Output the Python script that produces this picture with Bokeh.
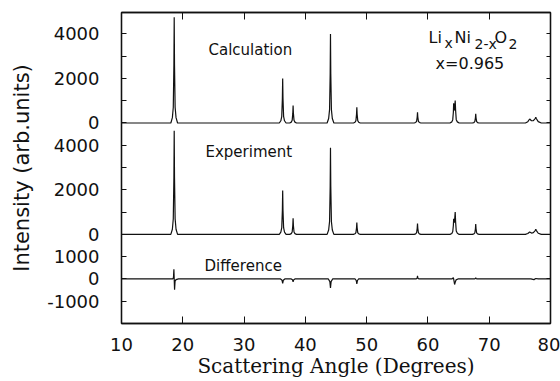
from bokeh.plotting import figure
from bokeh.models import Range1d, FixedTicker, LinearAxis, Label
from bokeh.embed import file_html
from bokeh.resources import INLINE

# ---------------- data ----------------
calc_x = [10.0,
          18.05, 18.3, 18.45, 18.55, 18.6, 18.65, 18.75, 18.9, 19.15,
          35.75, 36.0, 36.15, 36.25, 36.3, 36.35, 36.45, 36.6, 36.85,
          37.45, 37.7, 37.85, 37.95, 38.0, 38.05, 38.15, 38.3, 38.55,
          43.55, 43.8, 43.95, 44.05, 44.1, 44.15, 44.25, 44.4, 44.65,
          47.85, 48.1, 48.25, 48.35, 48.4, 48.45, 48.55, 48.7, 48.95,
          57.75, 58.0, 58.15, 58.25, 58.3, 58.35, 58.45, 58.6, 58.85,
          63.6, 63.9, 64.05, 64.15, 64.2, 64.27, 64.35, 64.45, 64.52, 64.62, 64.8, 65.1,
          67.25, 67.5, 67.65, 67.75, 67.8, 67.85, 67.95, 68.1, 68.35,
          75.9, 76.3, 76.6, 76.9, 77.2, 77.5, 77.6, 77.7, 78.0, 78.5,
          80.0]
calc_y = [0,
          0, 240, 710, 2610, 4750, 2610, 710, 240, 0,
          0, 100, 300, 1100, 2000, 1100, 300, 100, 0,
          0, 40, 120, 430, 785, 430, 120, 40, 0,
          0, 200, 600, 2200, 4000, 2200, 600, 200, 0,
          0, 35, 105, 390, 710, 390, 105, 35, 0,
          0, 25, 75, 270, 485, 270, 75, 25, 0,
          0, 50, 150, 480, 880, 560, 640, 1010, 560, 150, 50, 0,
          0, 20, 60, 230, 413, 230, 60, 20, 0,
          0, 60, 180, 100, 110, 200, 260, 190, 60, 0,
          0]

exp_x = [10.0,
         18.05, 18.3, 18.45, 18.55, 18.6, 18.65, 18.75, 18.9, 19.15,
         35.75, 36.0, 36.15, 36.25, 36.3, 36.35, 36.45, 36.6, 36.85,
         37.45, 37.7, 37.85, 37.95, 38.0, 38.05, 38.15, 38.3, 38.55,
         43.55, 43.8, 43.95, 44.05, 44.1, 44.15, 44.25, 44.4, 44.65,
         47.85, 48.1, 48.25, 48.35, 48.4, 48.45, 48.55, 48.7, 48.95,
         57.75, 58.0, 58.15, 58.25, 58.3, 58.35, 58.45, 58.6, 58.85,
         63.6, 63.9, 64.05, 64.15, 64.2, 64.27, 64.35, 64.45, 64.52, 64.62, 64.8, 65.1,
         67.25, 67.5, 67.65, 67.75, 67.8, 67.85, 67.95, 68.1, 68.35,
         75.9, 76.3, 76.6, 76.9, 77.2, 77.5, 77.6, 77.7, 78.0, 78.5,
         80.0]
exp_y = [0,
         0, 230, 700, 2560, 4650, 2560, 700, 230, 0,
         0, 100, 300, 1080, 1970, 1080, 300, 100, 0,
         0, 35, 110, 400, 720, 400, 110, 35, 0,
         0, 195, 580, 2140, 3890, 2140, 580, 195, 0,
         0, 27, 80, 295, 535, 295, 80, 27, 0,
         0, 25, 75, 270, 490, 270, 75, 25, 0,
         0, 40, 130, 400, 700, 520, 620, 1000, 550, 150, 50, 0,
         0, 23, 70, 250, 460, 250, 70, 23, 0,
         0, 40, 110, 60, 80, 170, 230, 170, 50, 0,
         0]

diff_x = [10.0, 18.35, 18.48, 18.55, 18.6, 18.66, 18.74, 18.9, 19.3,
          35.95, 36.2, 36.3, 36.4, 36.65,
          37.7, 37.9, 38.0, 38.1, 38.3,
          43.75, 44.0, 44.1, 44.2, 44.45,
          48.1, 48.3, 48.4, 48.5, 48.7,
          58.1, 58.25, 58.3, 58.35, 58.5,
          63.9, 64.15, 64.25, 64.35, 64.45, 64.6, 64.9,
          67.6, 67.75, 67.8, 67.85, 68.0,
          76.8, 77.3, 77.6, 78.0,
          80.0]
diff_y = [0, 0, 60, 430, 0, -480, -100, -30, 0,
          0, -60, -200, -60, 0,
          0, -40, -130, -40, 0,
          0, -120, -400, -120, 0,
          0, -70, -220, -70, 0,
          0, 40, 140, 40, 0,
          0, 60, -80, -250, -150, -40, 0,
          0, 20, 60, 20, 0,
          0, -30, 20, 0,
          0]

x_ticks = [10, 20, 30, 40, 50, 60, 70, 80]
calc_ticks = [0, 2000, 4000]
exp_ticks = [0, 2000, 4000]
diff_ticks = [-1000, 0, 1000]
calc_minor = [1000, 3000]
exp_minor = [1000, 3000]

# ---------------- layout (stacked panels on one shared scale) ----------------
DIFF_OFF = 0
EXP_OFF = 2000
CALC_OFF = 7000

FONT = "DejaVu Sans"
INK = "#111111"

p = figure(width=560, height=381, output_backend="svg", toolbar_location=None,
           x_range=Range1d(10, 80), y_range=Range1d(-2000, 11960),
           min_border_left=121, min_border_right=10,
           min_border_top=12, min_border_bottom=58)
p.background_fill_color = "white"
p.border_fill_color = "white"
p.outline_line_color = INK
p.outline_line_width = 1.3
p.xgrid.visible = False
p.ygrid.visible = False

p.line(calc_x, [v + CALC_OFF for v in calc_y], line_color=INK, line_width=1.2)
p.line(exp_x, [v + EXP_OFF for v in exp_y], line_color=INK, line_width=1.2)
p.line(diff_x, [v + DIFF_OFF for v in diff_y], line_color=INK, line_width=1.2)

# y ticks and labels
major = ([t + DIFF_OFF for t in diff_ticks] + [t + EXP_OFF for t in exp_ticks]
         + [t + CALC_OFF for t in calc_ticks])
minor = [t + EXP_OFF for t in exp_minor] + [t + CALC_OFF for t in calc_minor]
overrides = {}
for t in diff_ticks:
    overrides[t + DIFF_OFF] = str(t)
for t in exp_ticks:
    overrides[t + EXP_OFF] = str(t)
for t in calc_ticks:
    overrides[t + CALC_OFF] = str(t)

yt = FixedTicker(ticks=major, minor_ticks=minor)
xt = FixedTicker(ticks=x_ticks, minor_ticks=[])


def style(ax, tick_len):
    ax.axis_line_color = INK
    ax.axis_line_width = 1.3
    ax.major_tick_line_color = INK
    ax.minor_tick_line_color = INK
    ax.major_tick_in = tick_len
    ax.major_tick_out = 0
    ax.minor_tick_in = tick_len
    ax.minor_tick_out = 0
    ax.major_label_text_font = FONT
    ax.major_label_text_color = INK


xa = p.xaxis[0]
xa.ticker = xt
style(xa, 7)
xa.major_label_text_font_size = "18px"
xa.major_label_standoff = 14
xa.axis_label = "Scattering Angle (Degrees)"
xa.axis_label_text_font = "DejaVu Serif"
xa.axis_label_text_font_size = "20px"
xa.axis_label_text_font_style = "normal"
xa.axis_label_text_color = INK
xa.axis_label_standoff = 0

ya = p.yaxis[0]
ya.ticker = yt
style(ya, 5)
ya.major_label_overrides = overrides
ya.major_label_text_font_size = "18px"
ya.major_label_standoff = 22
ya.axis_label = "Intensity (arb.units)"
ya.axis_label_text_font = FONT
ya.axis_label_text_font_size = "21px"
ya.axis_label_text_font_style = "normal"
ya.axis_label_text_color = INK
ya.axis_label_standoff = 10

ra = LinearAxis(ticker=yt)
style(ra, 4)
ra.major_label_text_color = None
ra.major_label_standoff = 0
p.add_layout(ra, "right")

ta = LinearAxis(ticker=FixedTicker(ticks=x_ticks[1:-1], minor_ticks=[]))
style(ta, 7)
ta.major_label_text_color = None
ta.major_label_standoff = 0
p.add_layout(ta, "above")


def lab(x, y, text, size):
    p.add_layout(Label(x=x, y=y, text=text, text_font=FONT, text_font_size=size,
                       text_color=INK, text_align="left", text_baseline="alphabetic"))


lab(24.2, 10299, "Calculation", "15px")
lab(23.7, 5676, "Experiment", "15px")
lab(23.55, 603, "Difference", "15px")
lab(60.1, 10838, "Li", "16px")
lab(62.7, 10613, "x", "14px")
lab(64.35, 10838, "Ni", "16px")
lab(67.6, 10568, "2-x", "14px")
lab(70.85, 10838, "O", "16px")
lab(73.15, 10568, "2", "14px")
lab(61.25, 9671, "x=0.965", "16px")

open("out.html", "w").write(file_html(p, INLINE))
